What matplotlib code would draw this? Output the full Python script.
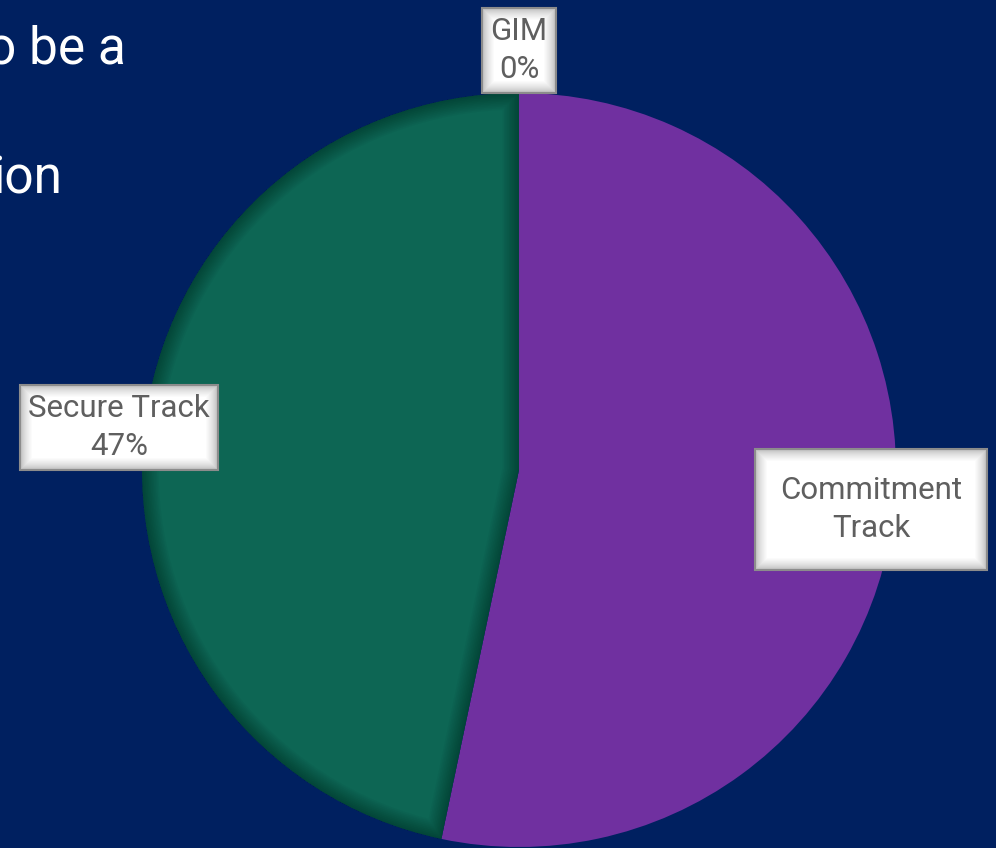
"""
Pie chart of track split on a dark slide background.

Output:
    out.png
"""

import matplotlib.pyplot as plt
import numpy as np
from matplotlib.patches import Rectangle, Wedge

# Data
categories = ["Commitment Track", "Secure Track", "GIM"]
values = [53.3, 46.7, 0]
show_percent = [False, True, True]
label_lines = ["Commitment\nTrack", "Secure Track", "GIM"]

# Slide text partly cut off at the left edge
slide_lines = ["o be a", "ion"]

BG = "#002060"
colors = ["#7030A0", "#0D6654", "#0D6654"]

W, H = 996, 848
fig = plt.figure(figsize=(W / 100, H / 100), dpi=100, facecolor=BG)
ax = fig.add_axes([0, 0, 1, 1])
ax.set_facecolor(BG)

center = (519, H - 470)
radius = 377

wedges, _ = ax.pie(
    values,
    colors=colors,
    startangle=90,
    counterclock=False,
    center=center,
    radius=radius,
    wedgeprops={"linewidth": 0},
    frame=True,
)
ax.set_xlim(0, W)
ax.set_ylim(0, H)
ax.set_aspect("equal")
ax.axis("off")

# inner shadow on the Secure Track slice
sec = wedges[1]
for k in range(1, 11):
    sh = Wedge(sec.center, sec.r, sec.theta1, sec.theta2, facecolor="none",
               edgecolor=(0, 0, 0, 0.03), linewidth=2.4 * k, zorder=sec.get_zorder() + 0.1)
    ax.add_patch(sh)
    sh.set_clip_path(sec)

# Label boxes (layout: x0, y_top, width, height in pixels)
boxes = {
    "Commitment Track": (755, 449, 232, 121),
    "Secure Track": (20, 385, 198, 85),
    "GIM": (482, 8, 74, 85),
}


def glow_box(x0, ytop, w, h):
    y0 = H - ytop - h
    ax.add_patch(Rectangle((x0, y0), w, h, facecolor="#A6A6A6", edgecolor="none", zorder=5))
    n = 12
    for i in range(1, n + 1):
        g = 0.70 + 0.30 * (i / n) ** 0.6
        ax.add_patch(
            Rectangle(
                (x0 + i, y0 + i), w - 2 * i, h - 2 * i,
                facecolor=(g, g, g), edgecolor="none", zorder=5 + i * 0.01,
            )
        )
    ax.add_patch(Rectangle((x0, y0), w, h, facecolor="none", edgecolor="#8C8C8C",
                           linewidth=1.5, zorder=6))


for cat, val, pct, txt in zip(categories, values, show_percent, label_lines):
    x0, ytop, w, h = boxes[cat]
    glow_box(x0, ytop, w, h)
    s = txt + (f"\n{val:.0f}%" if pct else "")
    ax.text(x0 + w / 2, H - ytop - h / 2, s, ha="center", va="center",
            fontsize=22.5, color="#5F5F5F", family="Roboto",
            linespacing=1.38, zorder=7)

# cut-off slide text
ax.text(126, H - 63, slide_lines[0], ha="right", va="baseline", fontsize=37,
        color="white", family="Roboto", zorder=7)
ax.text(62, H - 193, slide_lines[1], ha="right", va="baseline", fontsize=37,
        color="white", family="Roboto", zorder=7)

fig.savefig("out.png", dpi=100, facecolor=BG)
